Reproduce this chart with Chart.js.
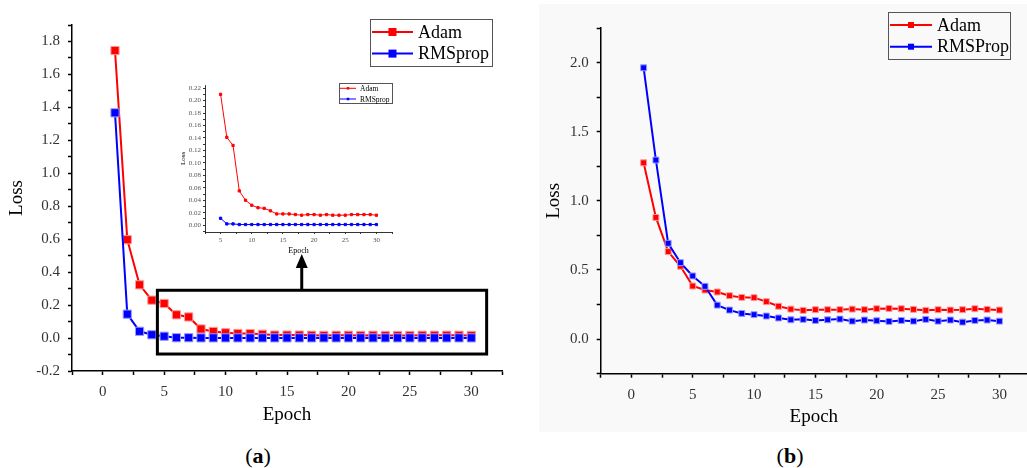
<!DOCTYPE html>
<html lang="en">
<head>
<meta charset="UTF-8">
<title>Adam vs RMSprop loss</title>
<script src="https://cdn.jsdelivr.net/npm/chart.js"></script>
<style>
    body {
        margin: 0;
        background: #fff;
        width: 1027px;
        height: 468px;
        position: relative;
        overflow: hidden;
        font-family: "Liberation Serif", serif;
    }
    canvas { position: absolute; }
    #chartA { left: 0; top: 0; }
    #chartB { left: 539px; top: 4px; background: #f9f9f9; }
    #chartInset { left: 160px; top: 78px; }
    .cap {
        position: absolute;
        top: 443px;
        width: 60px;
        text-align: center;
        font-size: 22px;
        color: #000;
    }
</style>
</head>
<body>
<canvas id="chartA" width="520" height="440"></canvas>
<canvas id="chartInset" width="240" height="185"></canvas>
<canvas id="chartB" width="488" height="428"></canvas>
<div class="cap" style="left:228px">(<b>a</b>)</div>
<div class="cap" style="left:760px">(<b>b</b>)</div>

<script>
// ---- data (a): main plot
const epochsA = [1, 2, 3, 4, 5, 6, 7, 8, 9, 10, 11, 12, 13, 14, 15, 16, 17, 18, 19, 20, 21, 22, 23, 24, 25, 26, 27, 28, 29, 30];
const adamA = [1.745, 0.597, 0.323, 0.230, 0.210, 0.141, 0.128, 0.055, 0.040, 0.032, 0.028, 0.027, 0.023, 0.018, 0.018,
               0.018, 0.017, 0.016, 0.017, 0.017, 0.016, 0.017, 0.016, 0.016, 0.016, 0.017, 0.017, 0.017, 0.017, 0.016];
const rmsA = [1.367, 0.145, 0.041, 0.020, 0.011, 0.002, 0.002, 0.001, 0.001, 0.001, 0.001, 0.001, 0.001, 0.001, 0.001,
              0.001, 0.001, 0.001, 0.001, 0.001, 0.001, 0.001, 0.001, 0.001, 0.001, 0.001, 0.001, 0.001, 0.001, 0.001];

// ---- data (a): zoomed inset, epochs 5..30
const epochsInset = [5, 6, 7, 8, 9, 10, 11, 12, 13, 14, 15, 16, 17, 18, 19, 20, 21, 22, 23, 24, 25, 26, 27, 28, 29, 30];
const adamInset = [0.210, 0.141, 0.128, 0.055, 0.040, 0.032, 0.028, 0.027, 0.023, 0.018, 0.018, 0.018, 0.017,
                   0.016, 0.017, 0.017, 0.016, 0.017, 0.016, 0.016, 0.016, 0.017, 0.017, 0.017, 0.017, 0.016];
const rmsInset = [0.011, 0.002, 0.002, 0.001, 0.001, 0.001, 0.001, 0.001, 0.001, 0.001, 0.001, 0.001, 0.001,
                  0.001, 0.001, 0.001, 0.001, 0.001, 0.001, 0.001, 0.001, 0.001, 0.001, 0.001, 0.001, 0.001];

// ---- data (b)
const epochsB = [1, 2, 3, 4, 5, 6, 7, 8, 9, 10, 11, 12, 13, 14, 15, 16, 17, 18, 19, 20, 21, 22, 23, 24, 25, 26, 27, 28, 29, 30];
const adamB = [1.275, 0.880, 0.633, 0.527, 0.384, 0.355, 0.341, 0.314, 0.302, 0.300, 0.271, 0.238, 0.217, 0.208, 0.213,
               0.213, 0.213, 0.217, 0.213, 0.220, 0.222, 0.220, 0.215, 0.208, 0.213, 0.210, 0.213, 0.220, 0.215, 0.210];
const rmsB = [1.962, 1.295, 0.693, 0.553, 0.457, 0.382, 0.246, 0.210, 0.186, 0.177, 0.167, 0.153, 0.140, 0.143, 0.135,
              0.140, 0.145, 0.130, 0.138, 0.133, 0.128, 0.135, 0.130, 0.143, 0.130, 0.138, 0.123, 0.135, 0.138, 0.130];

const seriesNamesA = ['Adam', 'RMSprop'];
const seriesNamesB = ['Adam', 'RMSProp'];

const RED = '#ff0000', BLUE = '#0000ff';
const SERIF = '"Liberation Serif", "Times New Roman", serif';

function pts(xs, ys) {
    return xs.map((x, i) => ({ x: x, y: ys[i] }));
}

// order: lower number is drawn on top, so RMSprop (order 0) sits over Adam
function series(label, xs, ys, color, edge, r, lw, order) {
    return {
        label: label,
        data: pts(xs, ys),
        showLine: true,
        order: order,
        borderColor: color,
        backgroundColor: color,
        borderWidth: lw,
        pointStyle: 'rect',
        pointRadius: r,
        pointBackgroundColor: color,
        pointBorderColor: edge,
        pointBorderWidth: 1
    };
}

// keep only ticks that sit on the step grid
function cleanTicks(step) {
    return function (scale) {
        scale.ticks = scale.ticks.filter(t => Math.abs(t.value / step - Math.round(t.value / step)) < 1e-6);
    };
}

function linAxis(o) {
    return {
        type: 'linear',
        min: o.min,
        max: o.max,
        afterBuildTicks: cleanTicks(o.step),
        afterFit: o.fit,
        border: { display: true, color: '#000', width: o.axisW },
        grid: { drawOnChartArea: false, drawTicks: true, tickLength: o.tick, color: '#000', tickWidth: o.axisW },
        ticks: {
            stepSize: o.step,
            includeBounds: false,
            autoSkip: false,
            maxRotation: 0,
            padding: o.pad,
            color: o.tickColor,
            font: { family: SERIF, size: o.fontSize },
            callback: o.label
        },
        title: {
            display: !!o.title,
            text: o.title,
            color: '#000',
            font: { family: SERIF, size: o.titleSize },
            padding: o.titlePad
        }
    };
}

// legend drawn as an Origin-style box: line with a square marker in the middle
const boxLegend = {
    id: 'boxLegend',
    afterDraw(chart, args, opts) {
        if (!opts.w) return;
        const ctx = chart.ctx;
        ctx.save();
        ctx.strokeStyle = '#555';
        ctx.lineWidth = 1;
        ctx.strokeRect(opts.x + 0.5, opts.y + 0.5, opts.w, opts.h);
        ctx.font = opts.fontSize + 'px ' + SERIF;
        ctx.textBaseline = 'middle';
        chart.data.datasets.forEach((ds, i) => {
            const y = opts.y + opts.row0 + i * opts.rowGap;
            ctx.strokeStyle = ds.borderColor;
            ctx.lineWidth = ds.borderWidth;
            ctx.beginPath();
            ctx.moveTo(opts.x + opts.line0, y);
            ctx.lineTo(opts.x + opts.line1, y);
            ctx.stroke();
            const mid = opts.x + (opts.line0 + opts.line1) / 2;
            ctx.fillStyle = ds.backgroundColor;
            ctx.fillRect(mid - opts.marker / 2, y - opts.marker / 2, opts.marker, opts.marker);
            ctx.fillStyle = '#000';
            ctx.fillText(ds.label, opts.x + opts.textX, y + 1);
        });
        ctx.restore();
    }
};

// zoom box and arrow pointing at the inset (chart a only)
const zoomBox = {
    id: 'zoomBox',
    afterDraw(chart, args, opts) {
        if (!opts.on) return;
        const xs = chart.scales.x, ys = chart.scales.y, ctx = chart.ctx;
        const x0 = xs.getPixelForValue(opts.x0), x1 = xs.getPixelForValue(opts.x1);
        const y0 = ys.getPixelForValue(opts.y0), y1 = ys.getPixelForValue(opts.y1);
        ctx.save();
        ctx.strokeStyle = '#000';
        ctx.lineWidth = 3;
        ctx.strokeRect(x0, y0, x1 - x0, y1 - y0);
        const ax = xs.getPixelForValue(opts.arrowX);
        const tip = ys.getPixelForValue(opts.arrowTip);
        ctx.beginPath();
        ctx.moveTo(ax, y0);
        ctx.lineTo(ax, tip + 10);
        ctx.stroke();
        ctx.fillStyle = '#000';
        ctx.beginPath();
        ctx.moveTo(ax, tip);
        ctx.lineTo(ax - 6, tip + 14);
        ctx.lineTo(ax + 6, tip + 14);
        ctx.closePath();
        ctx.fill();
        ctx.restore();
    }
};

Chart.register(boxLegend, zoomBox);

const fmt1 = (every) => (v) => (Math.abs(Math.round(v / every) * every - v) < 1e-6 ? v.toFixed(1) : '');

// ---------- chart (a)
new Chart(document.getElementById('chartA'), {
    type: 'scatter',
    data: {
        datasets: [
            series(seriesNamesA[0], epochsA, adamA, RED, '#ff9a9a', 5.8, 2, 1),
            series(seriesNamesA[1], epochsA, rmsA, BLUE, '#9a9aff', 5.8, 2, 0)
        ]
    },
    options: {
        responsive: false,
        animation: false,
        layout: { autoPadding: false, padding: { left: 0, top: 25, right: 18, bottom: 0 } },
        plugins: {
            legend: { display: false },
            tooltip: { enabled: false },
            boxLegend: { x: 370, y: 19, w: 122, h: 47, row0: 13, rowGap: 21.6, line0: 2, line1: 43, textX: 48, marker: 8, fontSize: 18 },
            zoomBox: { on: true, x0: 4.45, x1: 31.25, y0: 0.29, y1: -0.097, arrowX: 16.2, arrowTip: 0.51 }
        },
        scales: {
            x: linAxis({ min: -2.5, max: 32.5, step: 2.5, axisW: 1.5, tick: 4, pad: 8, tickColor: '#333', fontSize: 15,
                         label: (v) => (v >= 0 && v <= 30 && v % 5 === 0 ? String(v) : ''),
                         fit: (s) => { s.height = 69; },
                         title: 'Epoch', titleSize: 19, titlePad: { top: 0, bottom: 14 } }),
            y: linAxis({ min: -0.2, max: 1.9, step: 0.1, axisW: 1.5, tick: 4, pad: 8, tickColor: '#333', fontSize: 15,
                         label: fmt1(0.2),
                         fit: (s) => { s.width = 72; },
                         title: 'Loss', titleSize: 19, titlePad: { top: 6, bottom: 0 } })
        }
    }
});

// ---------- inset of chart (a)
new Chart(document.getElementById('chartInset'), {
    type: 'scatter',
    data: {
        datasets: [
            series(seriesNamesA[0], epochsInset, adamInset, RED, RED, 1.6, 1, 1),
            series(seriesNamesA[1], epochsInset, rmsInset, BLUE, BLUE, 1.6, 1, 0)
        ]
    },
    options: {
        responsive: false,
        animation: false,
        layout: { autoPadding: false, padding: { left: 0, top: 7, right: 8, bottom: 0 } },
        plugins: {
            legend: { display: false },
            tooltip: { enabled: false },
            boxLegend: { x: 179, y: 5, w: 53, h: 20, row0: 5.3, rowGap: 10.7, line0: 1, line1: 17, textX: 21, marker: 2.5, fontSize: 7.5 },
            zoomBox: { on: false }
        },
        scales: {
            x: linAxis({ min: 2.5, max: 32.5, step: 2.5, axisW: 0.8, tick: 2, pad: 2, tickColor: '#555', fontSize: 7,
                         label: (v) => (v % 5 === 0 ? String(v) : ''),
                         fit: (s) => { s.height = 31; },
                         title: 'Epoch', titleSize: 8, titlePad: { top: 0, bottom: 7 } }),
            y: linAxis({ min: -0.011, max: 0.225, step: 0.01, axisW: 0.8, tick: 2, pad: 2, tickColor: '#555', fontSize: 7,
                         label: (v) => (Math.abs(Math.round(v / 0.02) * 0.02 - v) < 1e-6 ? v.toFixed(2) : ''),
                         fit: (s) => { s.width = 45; },
                         title: 'Loss', titleSize: 7, titlePad: { top: 19, bottom: 0 } })
        }
    }
});

// ---------- chart (b)
new Chart(document.getElementById('chartB'), {
    type: 'scatter',
    data: {
        datasets: [
            series(seriesNamesB[0], epochsB, adamB, RED, '#ff9a9a', 4.2, 2, 1),
            series(seriesNamesB[1], epochsB, rmsB, BLUE, '#9a9aff', 4.2, 2, 0)
        ]
    },
    options: {
        responsive: false,
        animation: false,
        layout: { autoPadding: false, padding: { left: 0, top: 24, right: 0, bottom: 0 } },
        plugins: {
            legend: { display: false },
            tooltip: { enabled: false },
            boxLegend: { x: 349, y: 8, w: 122, h: 47, row0: 13, rowGap: 21.7, line0: 2, line1: 44, textX: 49, marker: 6, fontSize: 18 },
            zoomBox: { on: false }
        },
        scales: {
            x: linAxis({ min: -2.5, max: 32.25, step: 2.5, axisW: 1.5, tick: 4, pad: 8, tickColor: '#333', fontSize: 15,
                         label: (v) => (v >= 0 && v <= 30 && v % 5 === 0 ? String(v) : ''),
                         fit: (s) => { s.height = 58.3; },
                         title: 'Epoch', titleSize: 19, titlePad: { top: 0, bottom: 4 } }),
            y: linAxis({ min: -0.25, max: 2.25, step: 0.25, axisW: 1.5, tick: 4, pad: 8, tickColor: '#333', fontSize: 15,
                         label: fmt1(0.5),
                         fit: (s) => { s.width = 61.7; },
                         title: 'Loss', titleSize: 19, titlePad: { top: 4, bottom: 0 } })
        }
    }
});
</script>
</body>
</html>
